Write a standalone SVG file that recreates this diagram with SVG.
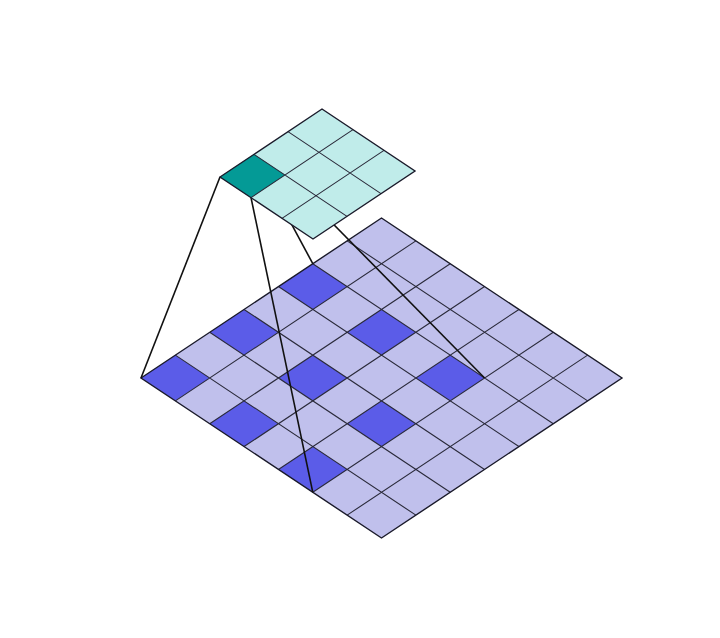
<svg xmlns="http://www.w3.org/2000/svg" width="720" height="638" viewBox="0 0 720 638">
  <style>
    .grid { fill: none; stroke: #2a2a3a; stroke-width: 1.1; vector-effect: non-scaling-stroke; }
    .border { fill: none; stroke: #1a1a2a; stroke-width: 1.4; vector-effect: non-scaling-stroke; }
    .big-light { fill: #c0c0ec; }
    .big-dark { fill: #5b5ce8; }
    .small-light { fill: #c0ecea; }
    .small-dark { fill: #049a96; }
    .conn { stroke: #111111; stroke-width: 1.6; fill: none; }
  </style>
  <rect width="720" height="638" fill="#ffffff"/>

  <g id="input-grid" transform="matrix(34.357 -22.857 34.357 22.857 141 378)">
    <rect class="big-light" x="0" y="0" width="7" height="7"/>
    <rect class="big-dark" x="0" y="0" width="1" height="1"/>
    <rect class="big-dark" x="2" y="0" width="1" height="1"/>
    <rect class="big-dark" x="4" y="0" width="1" height="1"/>
    <rect class="big-dark" x="0" y="2" width="1" height="1"/>
    <rect class="big-dark" x="2" y="2" width="1" height="1"/>
    <rect class="big-dark" x="4" y="2" width="1" height="1"/>
    <rect class="big-dark" x="0" y="4" width="1" height="1"/>
    <rect class="big-dark" x="2" y="4" width="1" height="1"/>
    <rect class="big-dark" x="4" y="4" width="1" height="1"/>
    <path class="grid" d="M0 1H7M0 2H7M0 3H7M0 4H7M0 5H7M0 6H7M1 0V7M2 0V7M3 0V7M4 0V7M5 0V7M6 0V7"/>
    <rect class="border" x="0" y="0" width="7" height="7"/>
  </g>

  <g id="connectors">
    <line class="conn" x1="220" y1="177" x2="141" y2="378"/>
    <line class="conn" x1="251" y1="197.67" x2="312.8" y2="492.3"/>
    <line class="conn" x1="254" y1="154.33" x2="312.8" y2="263.7"/>
    <line class="conn" x1="285" y1="175" x2="484.6" y2="378"/>
  </g>

  <g id="output-grid" transform="matrix(34 -22.667 31 20.667 220 177)">
    <rect class="small-light" x="0" y="0" width="3" height="3"/>
    <rect class="small-dark" x="0" y="0" width="1" height="1"/>
    <path class="grid" d="M0 1H3M0 2H3M1 0V3M2 0V3"/>
    <rect class="border" x="0" y="0" width="3" height="3"/>
  </g>
</svg>
